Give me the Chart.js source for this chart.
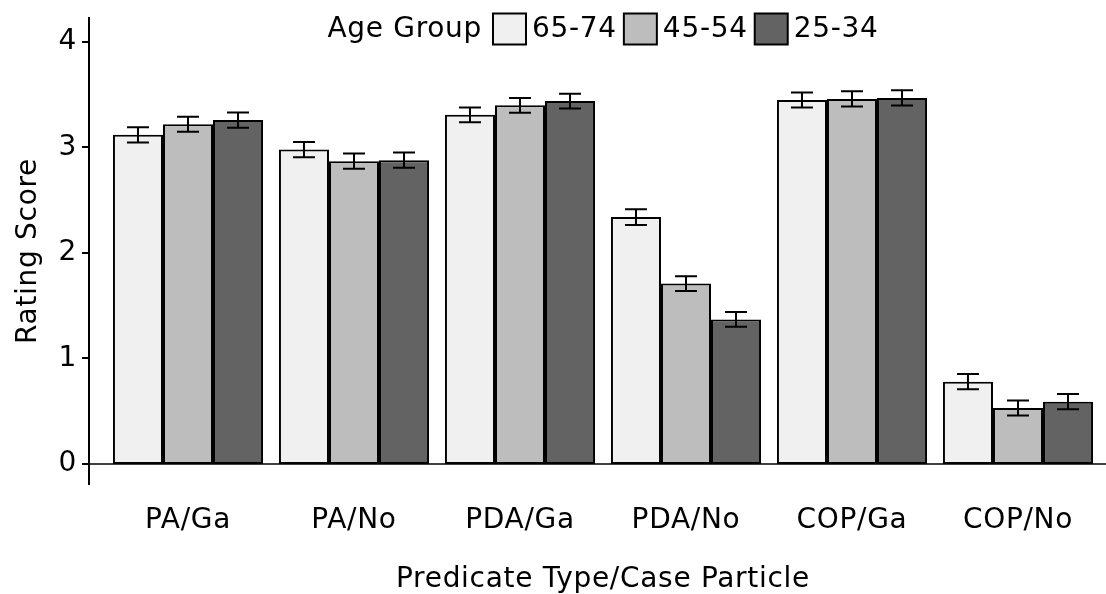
<!DOCTYPE html>
<html>
<head>
<meta charset="utf-8">
<script src="https://cdn.jsdelivr.net/npm/chart.js@4"></script>
<style>
  html, body { margin: 0; padding: 0; background: #fff; }
  #wrap { width: 1106px; height: 594px; position: relative; }
</style>
</head>
<body>
<div id="wrap"><canvas id="chart"></canvas></div>
<script>
const categories = ['PA/Ga', 'PA/No', 'PDA/Ga', 'PDA/No', 'COP/Ga', 'COP/No'];
const ageGroups = ['65-74', '45-54', '25-34'];
const score6574 = [3.12, 2.98, 3.31, 2.34, 3.45, 0.78];
const score4554 = [3.22, 2.87, 3.40, 1.71, 3.46, 0.53];
const score2534 = [3.26, 2.88, 3.44, 1.37, 3.47, 0.59];
const err6574 = [0.072, 0.072, 0.070, 0.075, 0.072, 0.072];
const err4554 = [0.072, 0.072, 0.070, 0.070, 0.072, 0.072];
const err2534 = [0.072, 0.072, 0.070, 0.070, 0.072, 0.072];
const yTicks = [0, 1, 2, 3, 4];
const legendTitle = 'Age Group';

const FONT = '"DejaVu Sans", sans-serif';
const SPACING = '0.7px';
const fills = ['#f0f0f0', '#bdbdbd', '#636363'];
const errors = [err6574, err4554, err2534];
const series = [score6574, score4554, score2534];

// slightly wider type, closer to the original's font
const spacing = {
    id: 'spacing',
    beforeLayout(chart) { chart.ctx.letterSpacing = SPACING; },
    beforeDraw(chart) { chart.ctx.letterSpacing = SPACING; }
};

// error bars, drawn from the bar elements and the y scale
const errorBars = {
    id: 'errorBars',
    afterDatasetsDraw(chart) {
        const ctx = chart.ctx;
        const y = chart.scales.y;
        ctx.save();
        ctx.strokeStyle = '#000';
        ctx.lineWidth = 2;
        chart.data.datasets.forEach((ds, i) => {
            chart.getDatasetMeta(i).data.forEach((bar, j) => {
                const v = ds.data[j], e = errors[i][j];
                const top = y.getPixelForValue(v + e);
                const bot = y.getPixelForValue(v - e);
                ctx.beginPath();
                ctx.moveTo(bar.x, top); ctx.lineTo(bar.x, bot);
                ctx.moveTo(bar.x - 11, top); ctx.lineTo(bar.x + 11, top);
                ctx.moveTo(bar.x - 11, bot); ctx.lineTo(bar.x + 11, bot);
                ctx.stroke();
            });
        });
        ctx.restore();
    }
};

// axis lines sit a little left of the plotting area, like the original
const axes = {
    id: 'axes',
    afterDatasetsDraw(chart) {
        const ctx = chart.ctx;
        const y = chart.scales.y;
        const area = chart.chartArea;
        const ax = area.left - 16;
        ctx.save();
        ctx.strokeStyle = '#000';
        ctx.lineWidth = 2;
        ctx.beginPath();
        ctx.moveTo(ax, area.top); ctx.lineTo(ax, area.bottom);
        yTicks.forEach(t => {
            const py = Math.round(y.getPixelForValue(t));
            ctx.moveTo(ax - 7, py); ctx.lineTo(ax, py);
        });
        ctx.stroke();
        const zy = Math.round(y.getPixelForValue(0));
        ctx.lineWidth = 1.5;
        ctx.beginPath();
        ctx.moveTo(ax, zy); ctx.lineTo(chart.width, zy);
        ctx.stroke();
        ctx.restore();
    }
};

// inline legend: title followed by the boxes
const inlineLegend = {
    id: 'inlineLegend',
    afterDraw(chart) {
        const ctx = chart.ctx;
        const area = chart.chartArea;
        ctx.save();
        ctx.letterSpacing = SPACING;
        ctx.font = '28px ' + FONT;
        ctx.textBaseline = 'middle';
        ctx.fillStyle = '#000';
        const bw = 33, bh = 31, gapTitle = 11, gapText = 6, gapItem = 7;
        const sets = chart.data.datasets;
        let total = ctx.measureText(legendTitle).width + gapTitle;
        sets.forEach((ds, i) => {
            total += bw + gapText + ctx.measureText(ds.label).width;
            if (i < sets.length - 1) total += gapItem;
        });
        let x = (area.left + area.right) / 2 - total / 2;
        const cy = 29;
        ctx.fillText(legendTitle, x, cy + 1);
        x += ctx.measureText(legendTitle).width + gapTitle;
        sets.forEach(ds => {
            ctx.fillStyle = ds.backgroundColor;
            ctx.fillRect(x, cy - bh / 2, bw, bh);
            ctx.strokeStyle = '#000';
            ctx.lineWidth = 2;
            ctx.strokeRect(x, cy - bh / 2, bw, bh);
            x += bw + gapText;
            ctx.fillStyle = '#000';
            ctx.fillText(ds.label, x, cy + 1);
            x += ctx.measureText(ds.label).width + gapItem;
        });
        ctx.restore();
    }
};

new Chart(document.getElementById('chart'), {
    type: 'bar',
    data: {
        labels: categories,
        datasets: ageGroups.map((g, i) => ({
            label: g,
            data: series[i],
            backgroundColor: fills[i],
            borderColor: '#000',
            borderWidth: 2,
            borderSkipped: false,
            categoryPercentage: 0.904,
            barPercentage: 1.0
        }))
    },
    options: {
        responsive: true,
        maintainAspectRatio: false,
        animation: false,
        layout: { padding: { top: 17, right: 5, left: 0, bottom: 0 } },
        plugins: {
            legend: { display: false },
            tooltip: { enabled: false }
        },
        scales: {
            x: {
                grid: { display: false, drawTicks: false },
                border: { display: false },
                ticks: { color: '#000', font: { family: FONT, size: 28 }, padding: 19 },
                title: {
                    display: true, text: 'Predicate Type/Case Particle', color: '#000',
                    font: { family: FONT, size: 28, lineHeight: 1.0 }, padding: { top: 0, bottom: 0 }
                },
                afterFit: s => { s.height = 109; s.paddingLeft = 0; s.paddingRight = 0; }
            },
            y: {
                min: -0.2,
                max: 4.237,
                afterBuildTicks: s => { s.ticks = yTicks.map(v => ({ value: v })); },
                grid: { display: false, drawTicks: false },
                border: { display: false },
                ticks: { color: '#000', font: { family: FONT, size: 28 }, padding: 28 },
                title: {
                    display: true, text: 'Rating Score', color: '#000',
                    font: { family: FONT, size: 28 }, padding: { top: 12, bottom: 0 }
                },
                afterFit: s => { s.width = 105; s.paddingTop = 0; s.paddingBottom = 0; }
            }
        }
    },
    plugins: [spacing, errorBars, axes, inlineLegend]
});
</script>
</body>
</html>
